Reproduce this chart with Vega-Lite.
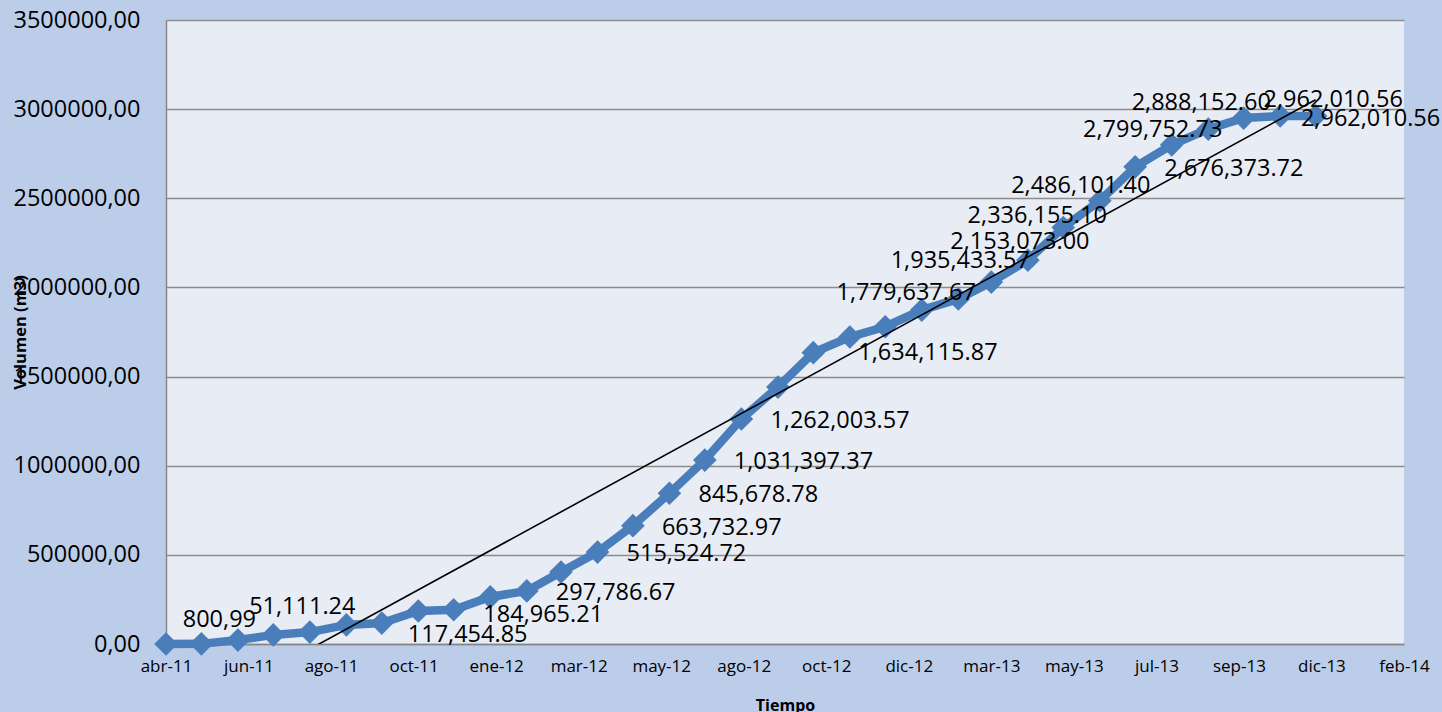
{
  "$schema": "https://vega.github.io/schema/vega-lite/v6.json",
  "width": 1238,
  "height": 624,
  "autosize": {"type": "none"},
  "padding": {"left": 166, "top": 20, "right": 38, "bottom": 68},
  "background": "#bccdea",
  "config": {
    "view": {"stroke": null, "fill": "#e8ecf4"},
    "font": "Open Sans",
    "text": {"font": "Open Sans", "fontSize": 23.5, "color": "#000000"}
  },
  "data": {
    "format": {"parse": {"fecha": "utc:'%Y-%m-%d'"}},
    "values": [
      {"fecha": "2011-04-01", "volumen": 0, "etiqueta": null},
      {"fecha": "2011-05-01", "volumen": 800.99, "etiqueta": "800,99"},
      {"fecha": "2011-06-01", "volumen": 22000, "etiqueta": null},
      {"fecha": "2011-07-01", "volumen": 51111.24, "etiqueta": "51,111.24"},
      {"fecha": "2011-08-01", "volumen": 67000, "etiqueta": null},
      {"fecha": "2011-09-01", "volumen": 107000, "etiqueta": null},
      {"fecha": "2011-10-01", "volumen": 117454.85, "etiqueta": "117,454.85"},
      {"fecha": "2011-11-01", "volumen": 184965.21, "etiqueta": "184,965.21"},
      {"fecha": "2011-12-01", "volumen": 192000, "etiqueta": null},
      {"fecha": "2012-01-01", "volumen": 264000, "etiqueta": null},
      {"fecha": "2012-02-01", "volumen": 297786.67, "etiqueta": "297,786.67"},
      {"fecha": "2012-03-01", "volumen": 404000, "etiqueta": null},
      {"fecha": "2012-04-01", "volumen": 515524.72, "etiqueta": "515,524.72"},
      {"fecha": "2012-05-01", "volumen": 663732.97, "etiqueta": "663,732.97"},
      {"fecha": "2012-06-01", "volumen": 845678.78, "etiqueta": "845,678.78"},
      {"fecha": "2012-07-01", "volumen": 1031397.37, "etiqueta": "1,031,397.37"},
      {"fecha": "2012-08-01", "volumen": 1262003.57, "etiqueta": "1,262,003.57"},
      {"fecha": "2012-09-01", "volumen": 1441000, "etiqueta": null},
      {"fecha": "2012-10-01", "volumen": 1634115.87, "etiqueta": "1,634,115.87"},
      {"fecha": "2012-11-01", "volumen": 1722000, "etiqueta": null},
      {"fecha": "2012-12-01", "volumen": 1779637.67, "etiqueta": "1,779,637.67"},
      {"fecha": "2013-01-01", "volumen": 1873000, "etiqueta": null},
      {"fecha": "2013-02-01", "volumen": 1935433.57, "etiqueta": "1,935,433.57"},
      {"fecha": "2013-03-01", "volumen": 2030000, "etiqueta": null},
      {"fecha": "2013-04-01", "volumen": 2153073.00, "etiqueta": "2,153,073.00"},
      {"fecha": "2013-05-01", "volumen": 2336155.10, "etiqueta": "2,336,155.10"},
      {"fecha": "2013-06-01", "volumen": 2486101.40, "etiqueta": "2,486,101.40"},
      {"fecha": "2013-07-01", "volumen": 2676373.72, "etiqueta": "2,676,373.72"},
      {"fecha": "2013-08-01", "volumen": 2799752.73, "etiqueta": "2,799,752.73"},
      {"fecha": "2013-09-01", "volumen": 2888152.60, "etiqueta": "2,888,152.60"},
      {"fecha": "2013-10-01", "volumen": 2950000, "etiqueta": null},
      {"fecha": "2013-11-01", "volumen": 2962010.56, "etiqueta": "2,962,010.56"},
      {"fecha": "2013-12-01", "volumen": 2962010.56, "etiqueta": "2,962,010.56"}
    ]
  },
  "encoding": {
    "x": {
      "field": "fecha",
      "type": "temporal",
      "scale": {
        "type": "utc",
        "domain": [
          {"year": 2011, "month": 4, "date": 1, "utc": true},
          {"year": 2014, "month": 2, "date": 14, "utc": true}
        ]
      },
      "axis": {
        "values": [
          {"year": 2011, "month": 4, "date": 1, "utc": true},
          {"year": 2011, "month": 6, "date": 10, "utc": true},
          {"year": 2011, "month": 8, "date": 19, "utc": true},
          {"year": 2011, "month": 10, "date": 28, "utc": true},
          {"year": 2012, "month": 1, "date": 6, "utc": true},
          {"year": 2012, "month": 3, "date": 16, "utc": true},
          {"year": 2012, "month": 5, "date": 25, "utc": true},
          {"year": 2012, "month": 8, "date": 3, "utc": true},
          {"year": 2012, "month": 10, "date": 12, "utc": true},
          {"year": 2012, "month": 12, "date": 21, "utc": true},
          {"year": 2013, "month": 3, "date": 1, "utc": true},
          {"year": 2013, "month": 5, "date": 10, "utc": true},
          {"year": 2013, "month": 7, "date": 19, "utc": true},
          {"year": 2013, "month": 9, "date": 27, "utc": true},
          {"year": 2013, "month": 12, "date": 6, "utc": true},
          {"year": 2014, "month": 2, "date": 14, "utc": true}
        ],
        "labelExpr": "['ene','feb','mar','abr','may','jun','jul','ago','sep','oct','nov','dic'][utcmonth(datum.value)] + '-' + utcFormat(datum.value, '%y')",
        "title": "Tiempo",
        "grid": false,
        "ticks": false,
        "domainColor": "#868686",
        "domainWidth": 1.5,
        "labelFont": "Open Sans",
        "labelFontSize": 17,
        "labelColor": "#000000",
        "labelPadding": 14,
        "labelFlush": false,
        "labelOverlap": false,
        "titleFont": "Open Sans",
        "titleFontSize": 16,
        "titleFontWeight": "bold",
        "titleColor": "#000000",
        "titleY": 66,
        "titleBaseline": "alphabetic"
      }
    },
    "y": {
      "field": "volumen",
      "type": "quantitative",
      "scale": {"domain": [0, 3500000], "nice": false},
      "axis": {
        "values": [0, 500000, 1000000, 1500000, 2000000, 2500000, 3000000, 3500000],
        "labelExpr": "replace(format(datum.value, '.2f'), '.', ',')",
        "title": "Volumen (m3)",
        "grid": true,
        "gridColor": "#8c8c8c",
        "gridWidth": 1.5,
        "ticks": false,
        "domainColor": "#868686",
        "domainWidth": 1.5,
        "labelFont": "Open Sans",
        "labelFontSize": 23.5,
        "labelColor": "#000000",
        "labelPadding": 26,
        "labelFlush": false,
        "labelOverlap": false,
        "titleFont": "Open Sans",
        "titleFontSize": 16.5,
        "titleFontWeight": "bold",
        "titleColor": "#000000",
        "titleX": -138,
        "titleY": 312,
        "titleAngle": -90
      }
    }
  },
  "layer": [
    {"mark": {"type": "line", "color": "#4a7ebb", "strokeWidth": 8.5}},
    {"mark": {"type": "point", "shape": "diamond", "filled": true, "size": 560, "color": "#4a7ebb", "opacity": 1}},
    {
      "transform": [{"regression": "volumen", "on": "fecha"}],
      "mark": {"type": "line", "color": "#000000", "strokeWidth": 1.6, "clip": true}
    },
    {
      "transform": [{"filter": {"field": "etiqueta", "oneOf": ["297,786.67", "515,524.72", "663,732.97", "845,678.78", "1,031,397.37", "1,262,003.57", "2,676,373.72"]}}],
      "mark": {"type": "text", "align": "left", "baseline": "middle", "dx": 29, "dy": 2},
      "encoding": {"text": {"field": "etiqueta"}}
    },
    {
      "transform": [{"filter": {"field": "etiqueta", "equal": "117,454.85"}}],
      "mark": {"type": "text", "align": "left", "baseline": "middle", "dx": 26, "dy": 12},
      "encoding": {"text": {"field": "etiqueta"}}
    },
    {
      "transform": [{"filter": {"field": "etiqueta", "equal": "184,965.21"}}],
      "mark": {"type": "text", "align": "left", "baseline": "middle", "dx": 65, "dy": 4},
      "encoding": {"text": {"field": "etiqueta"}}
    },
    {
      "transform": [{"filter": {"field": "etiqueta", "equal": "1,634,115.87"}}],
      "mark": {"type": "text", "align": "left", "baseline": "middle", "dx": 45, "dy": 0},
      "encoding": {"text": {"field": "etiqueta"}}
    },
    {
      "transform": [{"filter": {"field": "etiqueta", "equal": "800,99"}}],
      "mark": {"type": "text", "align": "center", "baseline": "middle", "dx": 18, "dy": -24},
      "encoding": {"text": {"field": "etiqueta"}}
    },
    {
      "transform": [{"filter": {"field": "etiqueta", "equal": "51,111.24"}}],
      "mark": {"type": "text", "align": "center", "baseline": "middle", "dx": 29, "dy": -28},
      "encoding": {"text": {"field": "etiqueta"}}
    },
    {
      "transform": [{"filter": {"field": "etiqueta", "equal": "1,779,637.67"}}],
      "mark": {"type": "text", "align": "center", "baseline": "middle", "dx": 21, "dy": -34},
      "encoding": {"text": {"field": "etiqueta"}}
    },
    {
      "transform": [{"filter": {"field": "etiqueta", "equal": "1,935,433.57"}}],
      "mark": {"type": "text", "align": "center", "baseline": "middle", "dx": 2, "dy": -38},
      "encoding": {"text": {"field": "etiqueta"}}
    },
    {
      "transform": [{"filter": {"field": "etiqueta", "oneOf": ["2,486,101.40", "2,799,752.73"]}}],
      "mark": {"type": "text", "align": "center", "baseline": "middle", "dx": -19, "dy": -15},
      "encoding": {"text": {"field": "etiqueta"}}
    },
    {
      "transform": [{"filter": {"field": "etiqueta", "equal": "2,153,073.00"}}],
      "mark": {"type": "text", "align": "center", "baseline": "middle", "dx": -8, "dy": -18},
      "encoding": {"text": {"field": "etiqueta"}}
    },
    {
      "transform": [{"filter": {"field": "etiqueta", "equal": "2,336,155.10"}}],
      "mark": {"type": "text", "align": "center", "baseline": "middle", "dx": -26, "dy": -11},
      "encoding": {"text": {"field": "etiqueta"}}
    },
    {
      "transform": [{"filter": {"field": "etiqueta", "equal": "2,888,152.60"}}],
      "mark": {"type": "text", "align": "center", "baseline": "middle", "dx": -7, "dy": -26},
      "encoding": {"text": {"field": "etiqueta"}}
    },
    {
      "transform": [{"filter": "datum.etiqueta != null && utcmonth(datum.fecha) == 10 && utcyear(datum.fecha) == 2013"}],
      "mark": {"type": "text", "align": "center", "baseline": "middle", "dx": 53, "dy": -16},
      "encoding": {"text": {"field": "etiqueta"}}
    },
    {
      "transform": [{"filter": "datum.etiqueta != null && utcmonth(datum.fecha) == 11 && utcyear(datum.fecha) == 2013"}],
      "mark": {"type": "text", "align": "center", "baseline": "middle", "dx": 55, "dy": 3},
      "encoding": {"text": {"field": "etiqueta"}}
    }
  ]
}
